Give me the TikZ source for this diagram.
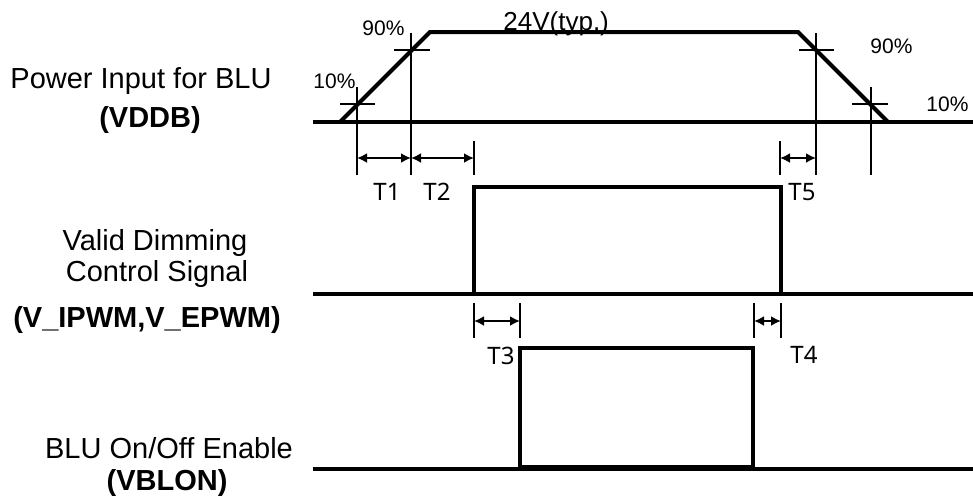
\documentclass[tikz,border=0pt]{standalone}
\usepackage{fontspec}
\setmainfont{Liberation Sans}
\newfontfamily\tfont{Noto Sans}
\usetikzlibrary{arrows.meta}

\begin{document}
\begin{tikzpicture}[
  x=0.5pt, y=-0.5pt,
  sig/.style={line width=2pt, line join=miter},
  tick/.style={line width=1.2pt},
  dim/.style={{Latex[length=5pt,width=5pt]}-{Latex[length=5pt,width=5pt]},
              line width=1.2pt},
  lbl/.style={font=\fontsize{14.5}{17}\selectfont, inner sep=0pt, anchor=base},
  blbl/.style={lbl, font=\fontsize{14.5}{17}\selectfont\bfseries},
  pct/.style={font=\fontsize{10.5}{12}\selectfont, inner sep=0pt, anchor=base west},
  tlbl/.style={font=\tfont\fontsize{12}{14}\selectfont, inner sep=0pt, anchor=base west}
]
\useasboundingbox (0,0) rectangle (973,500);

% signal names
\node[lbl]  (pwr)    at (141,88)  {Power Input for BLU};
\node[blbl] (vddb)   at (150,127) {(VDDB)};
\node[lbl]  (valid)  at (155,250) {Valid Dimming};
\node[lbl]  (ctrl)   at (157,281) {Control Signal};
\node[blbl] (pwm)    at (147,327) {(V\_IPWM,V\_EPWM)};
\node[lbl]  (enable) at (169,458) {BLU On/Off Enable};
\node[blbl] (vblon)  at (167,490) {(VBLON)};

% VDDB
\draw[sig] (313,122) -- (973,122);
\draw[sig] (340,122) -- (430,32) -- (798,32) -- (888,122);
\node[font=\fontsize{13}{15}\selectfont, inner sep=0pt, anchor=base west]
  (typ) at (503,30) {24V(typ.)};

\coordinate (r10) at (357,104);
\coordinate (r90) at (411,50);
\coordinate (f90) at (816,50);
\coordinate (f10) at (871,104);

\draw[tick] (340,104) -- (375,104);  \draw[tick] (357,87) -- (357,175);
\draw[tick] (394,50)  -- (430,50);   \draw[tick] (411,33) -- (411,175);
\draw[tick] (799,50)  -- (834,50);   \draw[tick] (816,33) -- (816,175);
\draw[tick] (852,104) -- (888,104);  \draw[tick] (871,87) -- (871,175);
\draw[tick] (474,141) -- (474,175);
\draw[tick] (780,141) -- (780,175);

\node[pct] (p10a) at (313,88)  {10\%};
\node[pct] (p90a) at (362,35)  {90\%};
\node[pct] (p90b) at (870,53)  {90\%};
\node[pct] (p10b) at (926,111) {10\%};

\coordinate (t1s) at (357,158);
\coordinate (t1e) at (411,158);
\coordinate (t2e) at (474,158);
\coordinate (t5s) at (780,158);
\coordinate (t5e) at (816,158);
\draw[dim] (t1s) -- (t1e);
\draw[dim] (t1e) -- (t2e);
\draw[dim] (t5s) -- (t5e);

\node[tlbl] (T1) at (373,200) {T1};
\node[tlbl] (T2) at (423,200) {T2};
\node[tlbl] (T5) at (788,200) {T5};

% dimming signal
\draw[sig] (313,294) -- (973,294);
\draw[sig] (474,294) -- (474,187) -- (781,187) -- (781,294);

\draw[tick] (474,303) -- (474,338);
\draw[tick] (520,303) -- (520,338);
\draw[tick] (754,303) -- (754,338);
\draw[tick] (781,303) -- (781,338);

\coordinate (t3s) at (474,321);
\coordinate (t3e) at (520,321);
\coordinate (t4s) at (754,321);
\coordinate (t4e) at (781,321);
\draw[dim] (t3s) -- (t3e);
\draw[dim] (t4s) -- (t4e);

\node[tlbl] (T3) at (487,364) {T3};
\node[tlbl] (T4) at (790,363) {T4};

% enable
\draw[sig] (313,469) -- (973,469);
\draw[sig] (520,467) rectangle (753,348);
\end{tikzpicture}
\end{document}
